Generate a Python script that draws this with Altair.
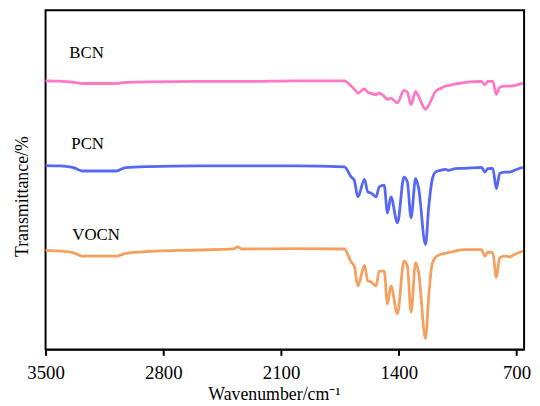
import altair as alt
import pandas as pd

# Shared wavenumber grid (cm-1)
wavenumber = [3500, 3418, 3329, 3282, 3082, 3024, 2888, 2594, 2382, 2359, 2335, 2006,
              1724, 1682, 1665, 1643, 1604, 1584, 1565, 1535, 1516, 1487, 1467, 1447,
              1408, 1369, 1349, 1327, 1300, 1282, 1241, 1222, 1202, 1182, 1153, 1124,
              1106, 1065, 1006, 908, 888, 871, 841, 820, 800, 771, 741, 712, 663]

bcn = [79.2, 79.1, 78.7, 78.4, 78.4, 78.7, 78.9, 79.0, 79.0, 79.0, 79.0, 79.2,
       79.2, 77.6, 76.8, 75.6, 76.8, 75.8, 75.5, 75.1, 75.6, 74.6, 73.7, 74.1,
       72.7, 76.4, 75.8, 72.2, 76.1, 74.6, 70.8, 72.0, 74.1, 76.1, 76.9, 77.6,
       77.8, 78.3, 78.7, 79.0, 78.0, 79.0, 79.0, 75.2, 77.3, 77.6, 77.6, 77.8, 78.5]

pcn = [54.2, 54.1, 53.5, 52.6, 52.6, 53.6, 53.9, 54.1, 54.1, 54.1, 54.1, 54.1,
       53.8, 50.8, 49.9, 45.0, 50.1, 46.4, 46.1, 45.0, 47.9, 48.4, 40.2, 45.0,
       37.3, 50.8, 49.4, 38.8, 50.4, 47.5, 30.9, 42.0, 49.9, 52.3, 52.8, 53.1,
       52.8, 53.3, 53.4, 53.7, 52.3, 53.3, 53.4, 47.4, 51.9, 52.3, 52.3, 52.8, 53.7]

vocn = [29.2, 29.0, 28.4, 27.5, 27.5, 28.3, 28.9, 29.3, 29.6, 30.2, 29.6, 29.7,
        29.6, 25.7, 24.6, 18.7, 24.8, 20.2, 19.9, 18.7, 23.1, 23.1, 13.4, 18.7,
        10.5, 26.0, 24.6, 11.0, 25.6, 22.7, 3.2, 15.7, 25.1, 27.1, 28.0, 28.3,
        28.5, 29.0, 29.4, 29.4, 27.5, 28.7, 28.5, 21.2, 27.0, 27.5, 27.3, 28.0, 29.0]

series_names = ["BCN", "PCN", "VOCN"]
series_colors = ["#FF78C6", "#5468F5", "#F5A05E"]

label_text = ["BCN", "PCN", "VOCN"]
label_wn = [3359, 3347, 3341]
label_t = [87.4, 60.5, 33.6]

tick_values = [3500, 2800, 2100, 1400, 700]

rows = []
for name, vals in zip(series_names, [bcn, pcn, vocn]):
    for w, t in zip(wavenumber, vals):
        rows.append({"wavenumber": w, "T": t, "sample": name})
df = pd.DataFrame(rows)
labels_df = pd.DataFrame({"text": label_text, "wavenumber": label_wn, "T": label_t})

FONT = "Liberation Serif"

x_scale = alt.Scale(domain=[3500, 655], nice=False, zero=False)
y_scale = alt.Scale(domain=[0, 100], nice=False)

lines = alt.Chart(df).mark_line(strokeWidth=2.8, interpolate="monotone").encode(
    x=alt.X("wavenumber:Q", scale=x_scale,
            axis=alt.Axis(title="Wavenumber/cm⁻¹", values=tick_values, format="d",
                          grid=False,
                          tickSize=6, tickWidth=2, tickColor="black",
                          domainColor="black", domainWidth=2,
                          labelFont=FONT, labelFontSize=19, labelColor="black",
                          labelPadding=8, labelFlush=False,
                          titleFont=FONT, titleFontSize=18, titleFontWeight="normal",
                          titleColor="black", titlePadding=4, titleX=231)),
    y=alt.Y("T:Q", scale=y_scale,
            axis=alt.Axis(title="Transmittance/%", labels=False, ticks=False,
                          domain=False, grid=False,
                          titleFont=FONT, titleFontSize=18, titleFontWeight="normal",
                          titleColor="black", titleAngle=-90, titleX=-23, titleY=188,
                          titleAlign="center", titleBaseline="middle")),
    color=alt.Color("sample:N", scale=alt.Scale(domain=series_names, range=series_colors),
                    legend=None),
    detail="sample:N",
)

texts = alt.Chart(labels_df).mark_text(font=FONT, fontSize=17, align="left",
                                       baseline="middle", color="black").encode(
    x=alt.X("wavenumber:Q", scale=x_scale),
    y=alt.Y("T:Q", scale=y_scale),
    text="text:N",
)

chart = alt.layer(lines, texts).properties(
    width=484, height=343,
    autosize="none",
    padding={"left": 38, "top": 0, "right": 8, "bottom": 55},
    background="white",
).configure_view(stroke="black", strokeWidth=2)

chart.save("out.html", embed_options={"renderer": "svg", "actions": False})
